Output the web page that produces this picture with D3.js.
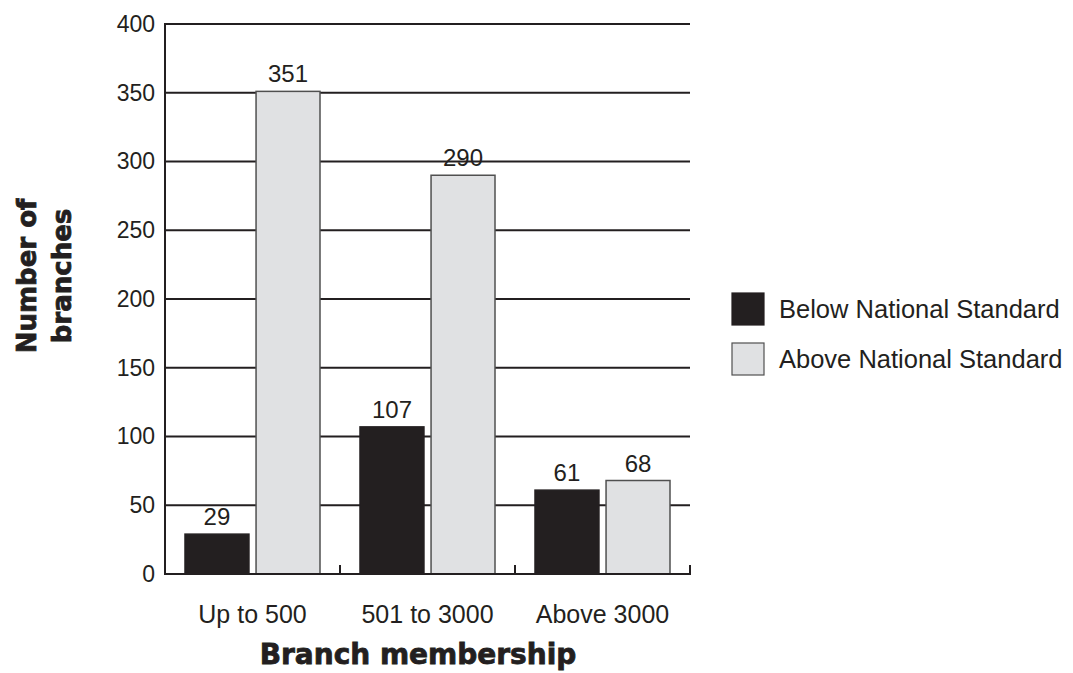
<!DOCTYPE html>
<html>
<head>
<meta charset="utf-8">
<script src="https://cdn.jsdelivr.net/npm/d3@7"></script>
<style>
  body { margin: 0; background: #fff; }
  svg { display: block; }
  text { fill: #231f20; }
</style>
</head>
<body>
<svg id="chart" width="1073" height="673"></svg>
<script>
const categories = ["Up to 500", "501 to 3000", "Above 3000"];
const seriesNames = ["Below National Standard", "Above National Standard"];
const belowValues = [29, 107, 61];
const aboveValues = [351, 290, 68];
const yTicks = [0, 50, 100, 150, 200, 250, 300, 350, 400];

const colors = ["#231f20", "#e0e1e3"];
const strokes = ["#231f20", "#505050"];
const FONT = "'Liberation Sans', Arial, sans-serif";
const BOLD = "'DejaVu Sans', sans-serif";

const svg = d3.select("#chart");
const mLeft = 165, mRight = 690, mTop = 24, mBottom = 574;

const x0 = d3.scaleBand().domain(categories).range([mLeft, mRight]).paddingInner(0).paddingOuter(0);
const x1 = d3.scaleBand().domain([0, 1]).range([20, x0.bandwidth() - 20]).paddingInner(0.1);
const y = d3.scaleLinear().domain([0, 400]).range([mBottom, mTop]);

// gridlines
svg.append("g").selectAll("line").data(yTicks.filter(d => d > 0)).join("line")
  .attr("x1", mLeft).attr("x2", mRight)
  .attr("y1", d => y(d)).attr("y2", d => y(d))
  .attr("stroke", "#231f20").attr("stroke-width", 2);

// y tick labels via axis
const yAxisG = svg.append("g").attr("transform", `translate(${mLeft},0)`)
  .call(d3.axisLeft(y).tickValues(yTicks).tickSize(0).tickPadding(10));
yAxisG.select(".domain").remove();
yAxisG.selectAll("text").style("font-size", "23px").style("font-family", FONT).style("fill", "#231f20");

const data = categories.map((c, i) => ({ cat: c, vals: [belowValues[i], aboveValues[i]] }));

const groups = svg.append("g").selectAll("g").data(data).join("g")
  .attr("transform", d => `translate(${x0(d.cat)},0)`);

groups.selectAll("rect").data(d => d.vals.map((v, k) => ({ v, k }))).join("rect")
  .attr("x", d => x1(d.k))
  .attr("width", x1.bandwidth())
  .attr("y", d => y(d.v))
  .attr("height", d => y(0) - y(d.v))
  .attr("fill", d => colors[d.k])
  .attr("stroke", d => strokes[d.k])
  .attr("stroke-width", 1.5);

groups.selectAll("text.val").data(d => d.vals.map((v, k) => ({ v, k }))).join("text")
  .attr("class", "val")
  .attr("x", d => x1(d.k) + x1.bandwidth() / 2)
  .attr("y", d => y(d.v) - 9)
  .attr("text-anchor", "middle")
  .style("font-size", "24px").style("font-family", FONT)
  .text(d => d.v);

// y axis line
svg.append("line").attr("x1", mLeft).attr("x2", mLeft).attr("y1", mTop - 1).attr("y2", mBottom + 1)
  .attr("stroke", "#231f20").attr("stroke-width", 2);

// x axis baseline
svg.append("line").attr("x1", mLeft - 1).attr("x2", mRight + 1).attr("y1", mBottom).attr("y2", mBottom)
  .attr("stroke", "#231f20").attr("stroke-width", 2);
// separator ticks
const sepTicks = categories.map(c => x0(c) + x0.bandwidth());
svg.append("g").selectAll("line").data(sepTicks).join("line")
  .attr("x1", d => d).attr("x2", d => d)
  .attr("y1", mBottom).attr("y2", mBottom - 9)
  .attr("stroke", "#231f20").attr("stroke-width", 2);

// x labels via axis
const xAxisG = svg.append("g").attr("transform", `translate(0,${mBottom})`)
  .call(d3.axisBottom(x0).tickSize(0).tickPadding(31));
xAxisG.select(".domain").remove();
xAxisG.selectAll("text").style("font-size", "25px").style("font-family", FONT).style("fill", "#231f20");

// axis titles
svg.append("text")
  .attr("x", 418).attr("y", 664)
  .attr("text-anchor", "middle")
  .style("font-family", BOLD)
  .style("font-size", "28px").style("font-weight", "bold")
  .style("stroke", "#231f20").style("stroke-width", "0.8px")
  .text("Branch membership");

const yt = svg.append("text")
  .attr("transform", "translate(0,276) rotate(-90)")
  .attr("text-anchor", "middle")
  .style("font-family", BOLD)
  .style("font-size", "26px").style("font-weight", "bold")
  .style("stroke", "#231f20").style("stroke-width", "0.8px");
yt.append("tspan").attr("x", 0).attr("y", 36).text("Number of");
yt.append("tspan").attr("x", 0).attr("y", 71).text("branches");

// legend
const legend = svg.append("g").selectAll("g").data(seriesNames).join("g")
  .attr("transform", (d, i) => `translate(732,${293 + i * 50})`);
legend.append("rect").attr("width", 32).attr("height", 32)
  .attr("fill", (d, i) => colors[i]).attr("stroke", (d, i) => strokes[i]).attr("stroke-width", 1.2);
legend.append("text").attr("x", 47).attr("y", 16).attr("dy", "0.36em")
  .style("font-size", "25.5px").style("font-family", FONT).text(d => d);
</script>
</body>
</html>
